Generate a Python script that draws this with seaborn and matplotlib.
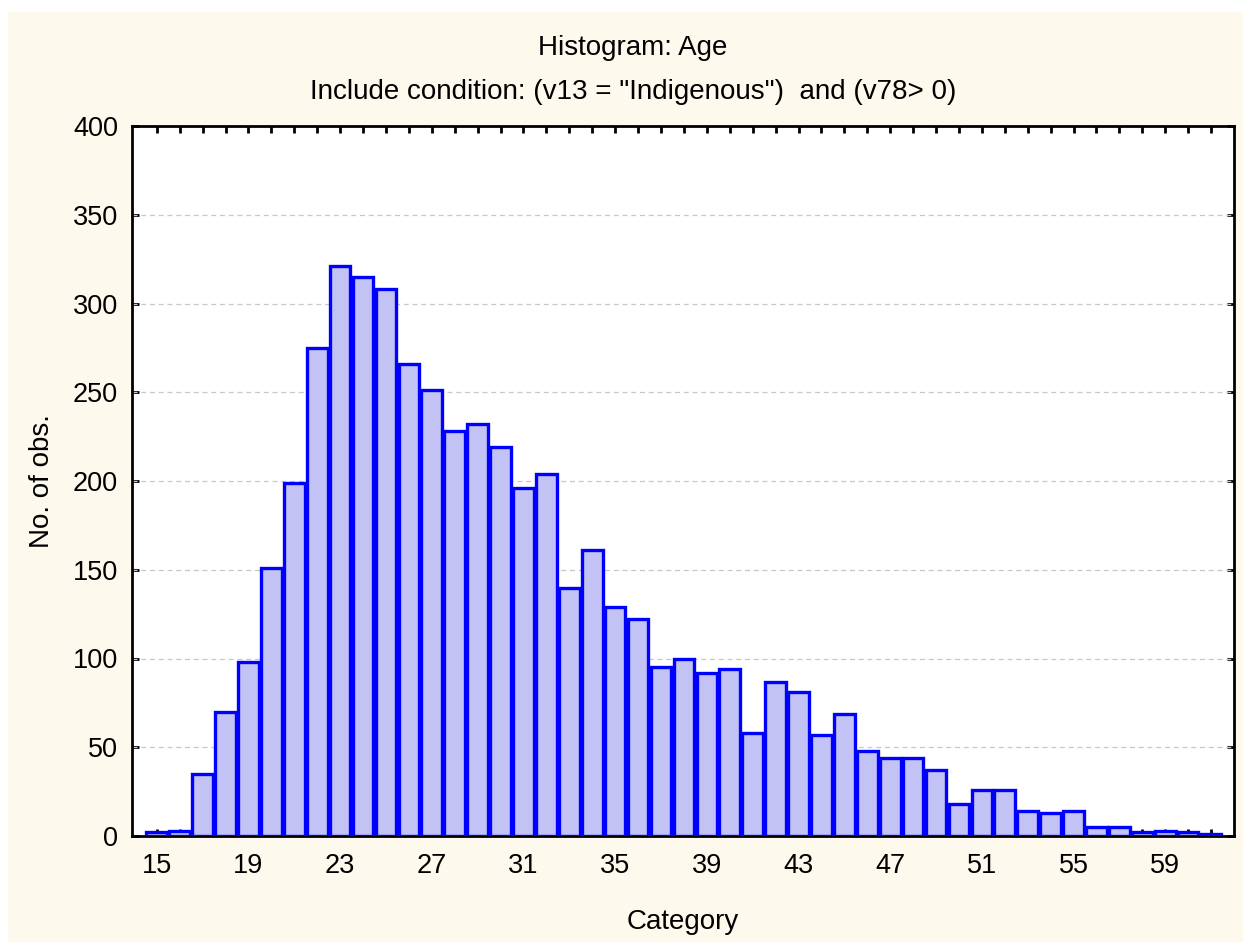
import matplotlib
matplotlib.use("Agg")
import matplotlib.pyplot as plt
import seaborn as sns
from matplotlib.patches import Rectangle

# age categories and number of observations per category
ages = list(range(15, 62))
counts = [2, 3, 35, 70, 98, 151, 199, 275, 321, 315,
          308, 266, 251, 228, 232, 219, 196, 204, 140, 161,
          129, 122, 95, 100, 92, 94, 58, 87, 81, 57,
          69, 48, 44, 44, 37, 18, 26, 26, 14, 13,
          14, 5, 5, 2, 3, 2, 1]
label_ages = list(range(15, 60, 4))
y_ticks = list(range(0, 401, 50))

sns.set_style("ticks")
plt.rcParams['font.family'] = ['Liberation Sans', 'DejaVu Sans']
plt.rcParams['text.color'] = 'black'
plt.rcParams['axes.labelcolor'] = 'black'
plt.rcParams['xtick.color'] = 'black'
plt.rcParams['ytick.color'] = 'black'

fig = plt.figure(figsize=(12.43, 9.42), dpi=100, facecolor='white')
# cream panel behind the chart
fig.patches.append(Rectangle((8 / 1243, 0), 1, 1 - 12 / 942, transform=fig.transFigure,
                             facecolor='#fdf9ed', edgecolor='none', zorder=-10))
ax = fig.add_axes([132 / 1243, 1 - 836 / 942, (1234 - 132) / 1243, (836 - 126) / 942])
ax.set_facecolor('white')

sns.histplot(x=ages, weights=counts, discrete=True, shrink=0.9,
             color='#c2c2f4', alpha=1, edgecolor='#0000ff', linewidth=2.4, ax=ax, zorder=3)

ax.set_xlim(13.92, 62)
ax.set_ylim(0, 400)
ax.set_xticks(ages)
ax.set_xticklabels([str(a) if a in label_ages else '' for a in ages])
ax.set_yticks(y_ticks)

for y in y_ticks[1:-1]:
    ax.axhline(y, color='#c8c8c8', lw=0.9, ls=(0, (4, 3)), zorder=1)

ax.tick_params(axis='both', direction='in', length=5, width=2, color='black',
               labelcolor='black', labelsize=19.5, top=True, right=True)
ax.tick_params(axis='x', pad=12)
ax.tick_params(axis='y', pad=10)
for s in ax.spines.values():
    s.set_linewidth(2)
    s.set_color('black')
    s.set_visible(True)

ax.set_xlabel('Category', fontsize=20, labelpad=22, color='black')
ax.set_ylabel('No. of obs.', fontsize=20, labelpad=13, color='black')

fig.text(633 / 1243, 1 - 48 / 942, 'Histogram: Age', ha='center', va='center',
         fontsize=20, color='black')
fig.text(633 / 1243, 1 - 92 / 942, 'Include condition: (v13 = "Indigenous")  and (v78> 0)',
         ha='center', va='center', fontsize=20, color='black')

fig.savefig('out.png', dpi=100, facecolor=fig.get_facecolor())
